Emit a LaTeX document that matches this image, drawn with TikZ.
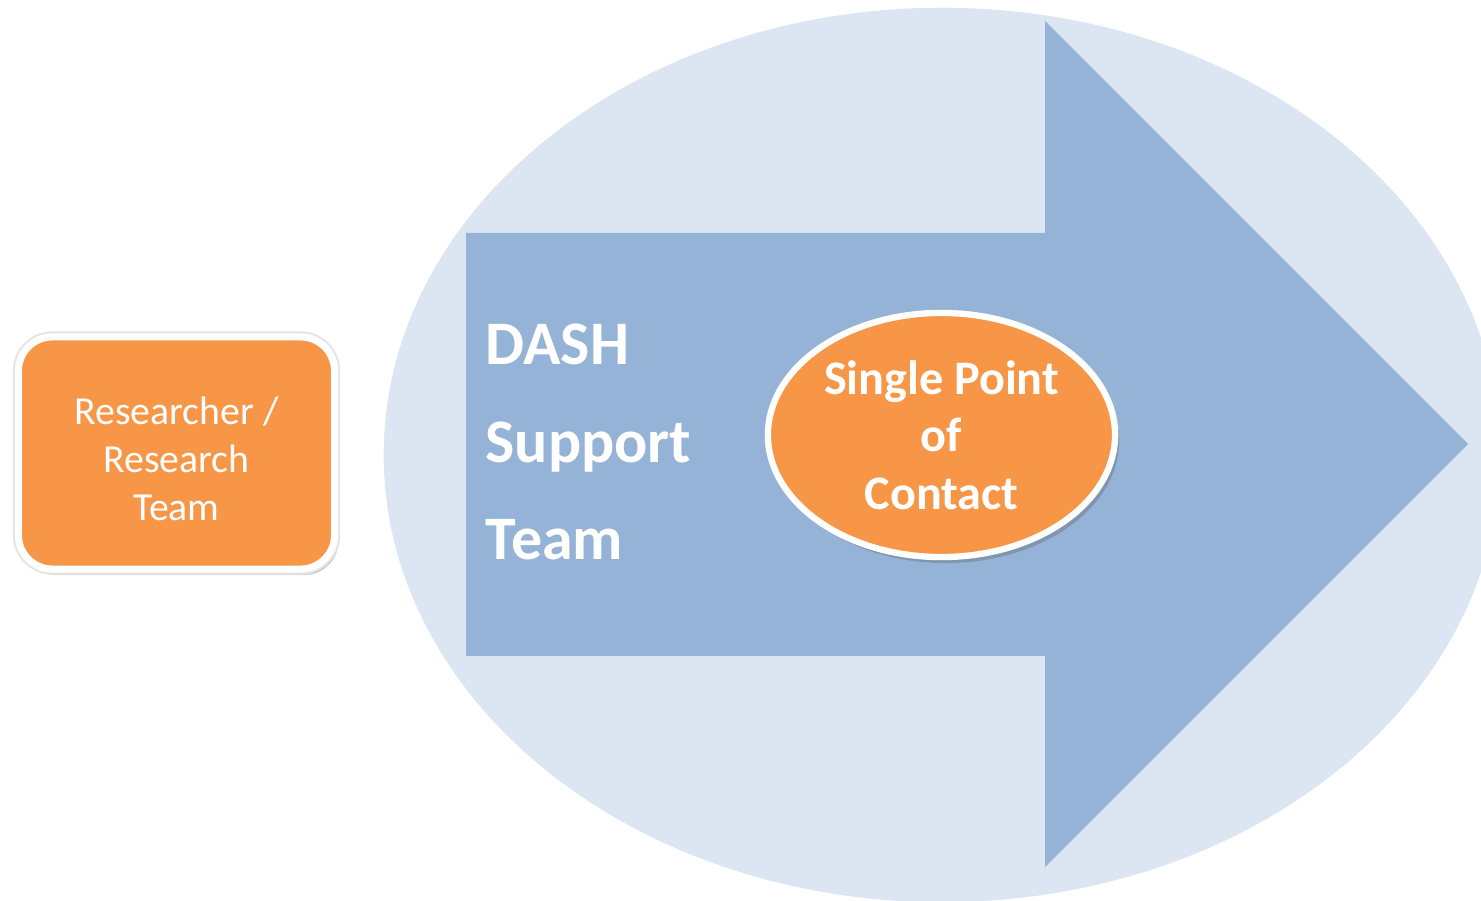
\documentclass[tikz,border=0pt]{standalone}
\usepackage{fontspec}
\setmainfont{Carlito}
\usetikzlibrary{shapes.geometric,shadows}
\definecolor{paleblue}{HTML}{DCE6F2}
\definecolor{arrowblue}{HTML}{95B3D7}
\definecolor{orangefill}{HTML}{F79646}
\tikzset{
  softshadow/.style={drop shadow={shadow xshift=0.04cm, shadow yshift=-0.06cm, opacity=0.28, fill=black!70}},
  orangebox/.style={rectangle, rounded corners=0.34cm, fill=orangefill, draw=white, line width=2pt,
    minimum width=3.16cm, minimum height=2.32cm, softshadow,
    preaction={draw=black!10, line width=3.2pt}},
  boxtext/.style={text=white, align=center, inner sep=0pt,
    font=\fontsize{11.3pt}{13.7pt}\selectfont},
  orangeoval/.style={ellipse, fill=orangefill, draw=white, line width=1.8pt,
    minimum width=3.47cm, minimum height=2.44cm, inner sep=0pt, softshadow, text=white, align=center,
    font=\bfseries\fontsize{13.7pt}{16.3pt}\selectfont},
  bigtext/.style={text=white, align=left, inner sep=0pt,
    font=\bfseries\fontsize{17.6pt}{27.6pt}\selectfont}
}
\begin{document}
\begin{tikzpicture}[x=0.01cm, y=-0.01cm]
\useasboundingbox (0,0) rectangle (1481,901);
\clip (0,0) rectangle (1481,901);
% background oval
\fill[paleblue] (942,455) ellipse [x radius=5.58cm, y radius=4.47cm];
% big arrow
\fill[arrowblue] (466,233) -- (1045,233) -- (1045,21) -- (1468,444) -- (1045,867) -- (1045,656) -- (466,656) -- cycle;
% nodes
\node[orangebox] (researcher) at (176.5,453) {};
\node[boxtext] (researchertext) at (176.5,459) {Researcher /\\Research\\Team};
\node[bigtext, anchor=west] (dash) at (485,442) {DASH\\Support\\Team};
\node[orangeoval] (spoc) at (941.5,435) {Single Point\\of\\Contact};
\end{tikzpicture}
\end{document}
